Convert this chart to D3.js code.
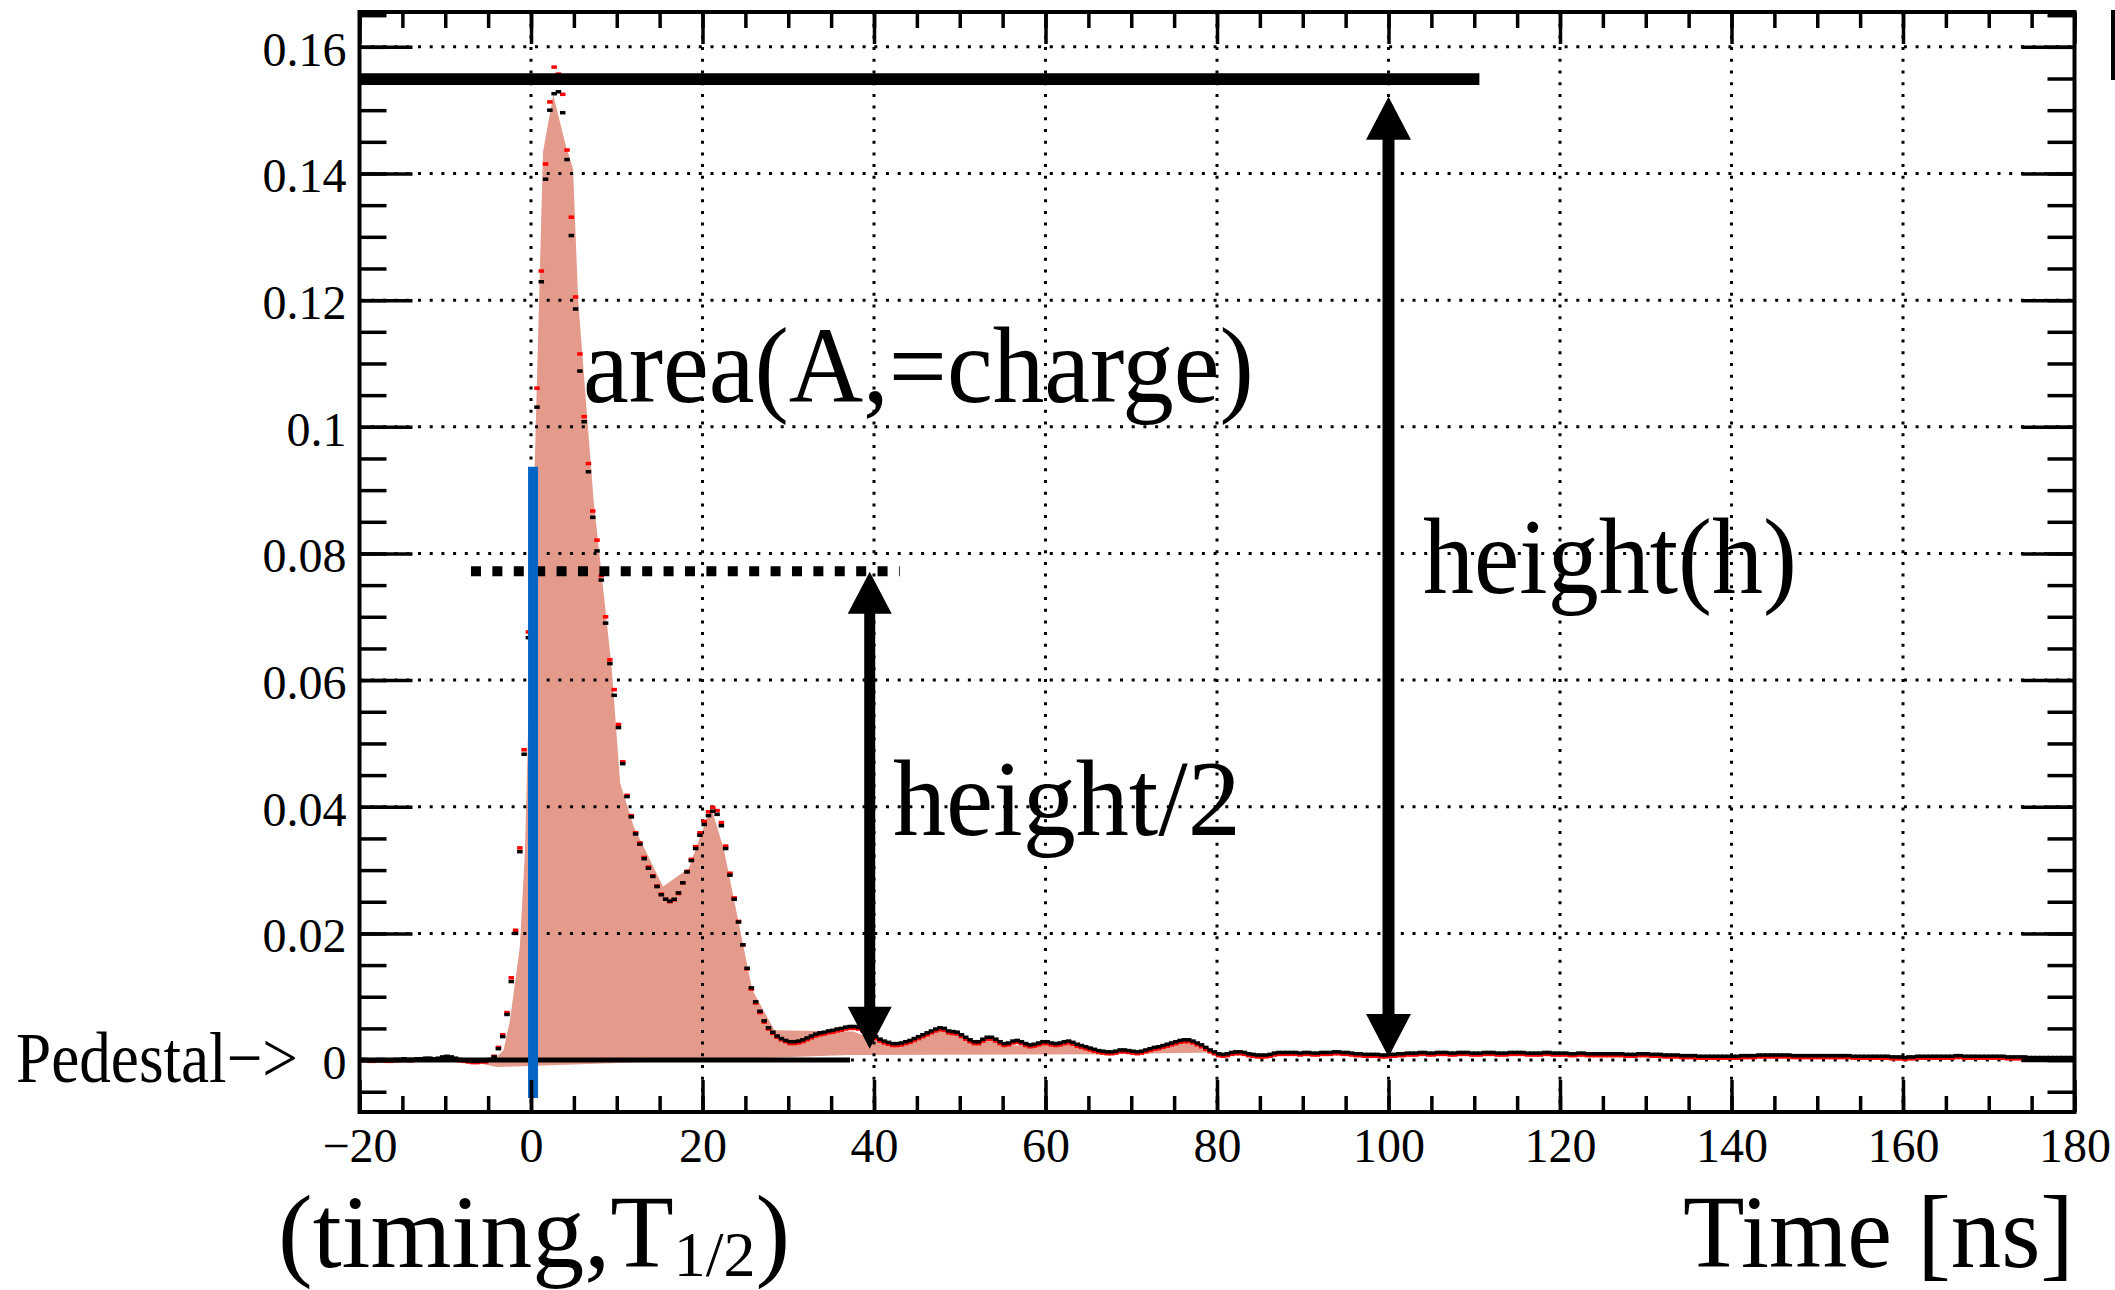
<!DOCTYPE html>
<html>
<head>
<meta charset="utf-8">
<script src="https://cdn.jsdelivr.net/npm/d3@7"></script>
<style>
	html, body { margin: 0; padding: 0; background: #fff; }
	svg { display: block; }
</style>
</head>
<body>
<div id="chart"></div>
<script>
// waveform: one sample every 0.5 ns, first sample at -19.8 ns
var SAMPLE_START = -19.8;
var SAMPLE_STEP = 0.5;

var blackSamples = [
	.0001,.0001,.0000,.0000,.0001,.0001,.0000,.0000,.0001,.0001,
	.0002,.0001,.0001,.0002,.0002,.0003,.0003,.0002,.0003,.0005,
	.0006,.0005,.0003,.0001,.0000,-.0001,-.0002,-.0002,-.0001,-.0001,
	.0001,.0005,.0018,.0037,.0072,.0124,.0200,.0329,.0483,.0667,
	.0860,.1031,.1229,.1391,.1500,.1526,.1529,.1496,.1422,.1302,
	.1186,.1088,.1008,.0929,.0857,.0804,.0758,.0690,.0626,.0576,
	.0525,.0468,.0416,.0384,.0357,.0341,.0318,.0303,.0290,.0274,
	.0261,.0254,.0251,.0254,.0264,.0280,.0297,.0315,.0334,.0355,
	.0372,.0386,.0393,.0388,.0370,.0334,.0292,.0254,.0218,.0182,
	.0145,.0114,.0092,.0077,.0062,.0051,.0044,.0038,.0034,.0031,
	.0029,.0029,.0030,.0032,.0035,.0038,.0041,.0043,.0044,.0046,
	.0047,.0049,.0050,.0052,.0053,.0053,.0052,.0049,.0045,.0041,
	.0037,.0033,.0030,.0028,.0026,.0026,.0027,.0029,.0031,.0034,
	.0037,.0040,.0043,.0046,.0049,.0051,.0050,.0046,.0045,.0044,
	.0040,.0036,.0032,.0029,.0029,.0033,.0036,.0036,.0033,.0029,
	.0026,.0027,.0030,.0031,.0029,.0026,.0024,.0025,.0027,.0029,
	.0029,.0027,.0026,.0027,.0029,.0030,.0028,.0025,.0023,.0021,
	.0019,.0017,.0015,.0014,.0013,.0013,.0014,.0016,.0016,.0015,
	.0014,.0013,.0014,.0016,.0018,.0020,.0021,.0023,.0025,.0027,
	.0029,.0031,.0032,.0032,.0030,.0027,.0024,.0020,.0016,.0013,
	.0010,.0009,.0010,.0012,.0013,.0013,.0012,.0010,.0009,.0008,
	.0008,.0008,.0009,.0011,.0012,.0012,.0012,.0012,.0012,.0011,
	.0012,.0012,.0011,.0011,.0012,.0012,.0012,.0013,.0013,.0012,
	.0012,.0011,.0010,.0010,.0009,.0009,.0009,.0009,.0008,.0008,
	.0009,.0009,.0010,.0010,.0011,.0011,.0011,.0012,.0012,.0011,
	.0011,.0012,.0012,.0012,.0011,.0011,.0012,.0012,.0012,.0011,
	.0011,.0011,.0012,.0012,.0012,.0011,.0011,.0011,.0012,.0012,
	.0012,.0012,.0011,.0011,.0011,.0011,.0012,.0012,.0011,.0011,
	.0011,.0011,.0010,.0010,.0011,.0011,.0010,.0010,.0010,.0010,
	.0010,.0010,.0010,.0010,.0010,.0009,.0009,.0009,.0010,.0010,
	.0010,.0009,.0009,.0009,.0008,.0008,.0008,.0008,.0007,.0007,
	.0007,.0007,.0006,.0006,.0006,.0006,.0006,.0006,.0006,.0006,
	.0006,.0006,.0007,.0007,.0007,.0007,.0008,.0008,.0008,.0008,
	.0008,.0008,.0008,.0008,.0007,.0007,.0007,.0007,.0007,.0007,
	.0007,.0007,.0007,.0007,.0007,.0007,.0007,.0007,.0006,.0006,
	.0006,.0006,.0006,.0006,.0006,.0006,.0006,.0005,.0005,.0005,
	.0004,.0005,.0005,.0006,.0006,.0006,.0006,.0006,.0006,.0006,
	.0006,.0006,.0007,.0007,.0006,.0006,.0006,.0006,.0006,.0006,
	.0006,.0006,.0006,.0006,.0005,.0005,.0005,.0005,.0005,.0004,
	.0004,.0004,.0004,.0004,.0004,.0004,.0004,.0004,.0004,.0004
];

var redSamples = [
	-.0001,-.0001,-.0002,-.0002,-.0001,-.0001,-.0002,-.0002,-.0001,-.0001,
	.0000,-.0001,-.0001,.0000,.0000,.0001,.0001,.0000,.0001,.0003,
	.0004,.0003,.0001,-.0001,-.0002,-.0003,-.0004,-.0004,-.0003,-.0003,
	.0000,.0006,.0020,.0040,.0075,.0130,.0205,.0335,.0490,.0676,
	.0875,.1061,.1246,.1415,.1513,.1568,.1557,.1525,.1437,.1331,
	.1205,.1115,.1016,.0942,.0867,.0821,.0765,.0700,.0632,.0585,
	.0530,.0471,.0418,.0386,.0359,.0343,.0320,.0305,.0291,.0275,
	.0262,.0254,.0250,.0253,.0263,.0280,.0298,.0317,.0337,.0359,
	.0377,.0392,.0399,.0394,.0375,.0338,.0295,.0256,.0219,.0182,
	.0144,.0112,.0090,.0075,.0060,.0049,.0042,.0036,.0032,.0029,
	.0026,.0026,.0027,.0029,.0032,.0035,.0038,.0040,.0041,.0043,
	.0044,.0046,.0047,.0049,.0050,.0050,.0049,.0046,.0042,.0038,
	.0034,.0030,.0027,.0025,.0023,.0023,.0024,.0026,.0028,.0031,
	.0034,.0037,.0040,.0043,.0046,.0048,.0047,.0043,.0042,.0041,
	.0037,.0033,.0029,.0026,.0026,.0030,.0033,.0033,.0030,.0026,
	.0023,.0024,.0027,.0028,.0026,.0023,.0021,.0022,.0024,.0026,
	.0026,.0024,.0023,.0024,.0026,.0027,.0025,.0022,.0020,.0018,
	.0016,.0014,.0012,.0011,.0010,.0010,.0011,.0013,.0013,.0012,
	.0011,.0010,.0011,.0013,.0015,.0017,.0018,.0020,.0022,.0024,
	.0026,.0028,.0029,.0029,.0027,.0024,.0021,.0017,.0013,.0010,
	.0007,.0006,.0007,.0009,.0010,.0010,.0009,.0007,.0006,.0005,
	.0005,.0005,.0006,.0008,.0009,.0009,.0009,.0009,.0009,.0008,
	.0009,.0009,.0008,.0008,.0009,.0009,.0009,.0010,.0010,.0009,
	.0009,.0008,.0007,.0007,.0006,.0006,.0006,.0006,.0005,.0005,
	.0006,.0006,.0007,.0007,.0008,.0008,.0008,.0009,.0009,.0008,
	.0008,.0009,.0009,.0009,.0008,.0008,.0009,.0009,.0009,.0008,
	.0008,.0008,.0009,.0009,.0009,.0008,.0008,.0008,.0009,.0009,
	.0009,.0009,.0008,.0008,.0008,.0008,.0009,.0009,.0008,.0008,
	.0008,.0008,.0007,.0007,.0008,.0008,.0007,.0007,.0007,.0007,
	.0007,.0007,.0007,.0007,.0007,.0006,.0006,.0006,.0007,.0007,
	.0007,.0006,.0006,.0006,.0005,.0005,.0005,.0005,.0004,.0004,
	.0004,.0004,.0003,.0003,.0003,.0003,.0003,.0003,.0003,.0003,
	.0003,.0003,.0004,.0004,.0004,.0004,.0005,.0005,.0005,.0005,
	.0005,.0005,.0005,.0005,.0004,.0004,.0004,.0004,.0004,.0004,
	.0004,.0004,.0004,.0004,.0004,.0004,.0004,.0004,.0003,.0003,
	.0003,.0003,.0003,.0003,.0003,.0003,.0003,.0002,.0002,.0002,
	.0001,.0002,.0002,.0003,.0003,.0003,.0003,.0003,.0003,.0003,
	.0003,.0003,.0004,.0004,.0003,.0003,.0003,.0003,.0003,.0003,
	.0003,.0003,.0003,.0003,.0002,.0002,.0002,.0002,.0002,.0001,
	.0001,.0001,.0001,.0001,.0001,.0001,.0001,.0001,.0001,.0001
];

// hand drawn shaded area under the pulse (time, value)
var fillTimes = [-7.9, -4.2, -3.2, -2.45, -1.3, -0.7, 0.55, 1.4, 2.6, 4.1, 4.9, 5.5, 7.3, 9.4, 10.4, 12.0, 15.4, 18.4, 21.0, 22.5, 25.8, 28.4, 37.6, 39.5, 41.5, 43.0, 47.7, 49.5, 51.8, 53.6, 55.4, 58.5, 60.2, 63.0, 65.5, 67.3, 70.8, 76.0, 79.5, 67.0, 37.0, -4.0];
var fillValues = [0.0000, 0.0002, 0.0016, 0.0063, 0.0179, 0.0330, 0.1000, 0.1434, 0.1524, 0.1442, 0.1408, 0.1200, 0.0884, 0.0621, 0.0437, 0.0368, 0.0274, 0.0303, 0.0400, 0.0332, 0.0111, 0.0047, 0.0045, 0.0035, 0.0028, 0.0026, 0.0047, 0.0040, 0.0024, 0.0032, 0.0024, 0.0022, 0.0026, 0.0025, 0.0013, 0.0010, 0.0012, 0.0030, 0.0012, 0.0009, 0.0008, -0.0011];

var xMajorTicks = [-20, 0, 20, 40, 60, 80, 100, 120, 140, 160, 180];
var xTickLabels = ["\u221220", "0", "20", "40", "60", "80", "100", "120", "140", "160", "180"];
var yMajorTicks = [0, 0.02, 0.04, 0.06, 0.08, 0.1, 0.12, 0.14, 0.16];
var yTickLabels = ["0", "0.02", "0.04", "0.06", "0.08", "0.1", "0.12", "0.14", "0.16"];

// annotation marks, in data units
var heightLine = { from: -20, to: 110.6, value: 0.1549 };
var halfLine = { from: -7.0, to: 43.0, value: 0.0772 };
var pedestalLine = { from: -20, to: 37.2, value: 0 };
var timingLine = { at: 0.24, from: -0.006, to: 0.0937 };
var heightArrow = { at: 100, from: 0.0005, to: 0.1521 };
var halfArrow = { at: 39.5, from: 0.0018, to: 0.0771 };

var W = 2115, H = 1290;
var frame = { left: 359.5, right: 2074.5, top: 12, bottom: 1112 };
var FONT = "'Liberation Serif', 'Times New Roman', serif";

var x = d3.scaleLinear().domain([-20, 180]).range([frame.left, frame.right]);
var y = d3.scaleLinear().domain([-0.0082, 0.1655]).range([frame.bottom, frame.top]);

var svg = d3.select("#chart")
	.append("svg")
	.attr("width", W)
	.attr("height", H);

// shaded charge area
var fillLine = d3.line()
	.x(function(_d) { return x(_d[0]); })
	.y(function(_d) { return y(_d[1]); });

svg.append("path")
	.attr("class", "charge_area")
	.attr("d", fillLine(d3.zip(fillTimes, fillValues)) + "Z")
	.style("fill", "#e59b8b");

// dotted grid
var grid = svg.append("g").attr("class", "grid")
	.style("stroke", "#000")
	.style("stroke-width", 3)
	.style("stroke-dasharray", "3 8.7");

grid.selectAll(".grid_v")
	.data(xMajorTicks.slice(1, -1))
	.enter().append("line")
	.attr("class", "grid_v")
	.attr("x1", function(_d) { return x(_d); })
	.attr("x2", function(_d) { return x(_d); })
	.attr("y1", frame.top)
	.attr("y2", frame.bottom);

grid.selectAll(".grid_h")
	.data(yMajorTicks)
	.enter().append("line")
	.attr("class", "grid_h")
	.attr("x1", frame.left)
	.attr("x2", frame.right)
	.attr("y1", function(_d) { return y(_d); })
	.attr("y2", function(_d) { return y(_d); });

// waveform markers
var drawMarkers = function(_values, _colour)	{
	svg.append("g")
	.selectAll("rect")
	.data(_values)
	.enter().append("rect")
	.attr("x", function(_d, _i) { return x(SAMPLE_START + _i * SAMPLE_STEP) - 2.75; })
	.attr("y", function(_d) { return y(_d) - 1.75; })
	.attr("width", 5.5)
	.attr("height", 3.5)
	.style("fill", _colour);
}

drawMarkers(redSamples, "#ff0000");
drawMarkers(blackSamples, "#000");

// annotation lines
var hLine = function(_l, _width, _colour, _dash)	{
	return svg.append("line")
	.attr("x1", x(_l.from))
	.attr("x2", x(_l.to))
	.attr("y1", y(_l.value))
	.attr("y2", y(_l.value))
	.style("stroke", _colour)
	.style("stroke-width", _width)
	.style("stroke-dasharray", _dash || null);
}

hLine(heightLine, 11.7, "#000");
hLine(halfLine, 10, "#000", "10 11.4");
hLine(pedestalLine, 5, "#000");

svg.append("line")
	.attr("x1", x(timingLine.at))
	.attr("x2", x(timingLine.at))
	.attr("y1", y(timingLine.from))
	.attr("y2", y(timingLine.to))
	.style("stroke", "#0565c4")
	.style("stroke-width", 10);

var doubleArrow = function(_a, _shaft, _headW, _headL)	{
	var cx = x(_a.at);
	var top = y(_a.to);
	var bottom = y(_a.from);
	var g = svg.append("g").attr("class", "arrow");

	g.append("line")
	.attr("x1", cx)
	.attr("x2", cx)
	.attr("y1", top + _headL - 2)
	.attr("y2", bottom - _headL + 2)
	.style("stroke", "#000")
	.style("stroke-width", _shaft);

	g.append("path")
	.attr("d", "M" + cx + "," + top + "L" + (cx - _headW / 2) + "," + (top + _headL) + "L" + (cx + _headW / 2) + "," + (top + _headL) + "Z"
		+ "M" + cx + "," + bottom + "L" + (cx - _headW / 2) + "," + (bottom - _headL) + "L" + (cx + _headW / 2) + "," + (bottom - _headL) + "Z")
	.style("fill", "#000");
}

doubleArrow(heightArrow, 12, 45, 43);
doubleArrow(halfArrow, 11, 44, 42);

// axes, ticks drawn inwards ROOT style
var styleAxis = function(_g)	{
	_g.select(".domain").remove();
	_g.attr("font-family", FONT)
	.attr("font-size", 48);
	_g.selectAll("line").style("stroke-width", 3.5);
	_g.selectAll("text").style("fill", "#000");
}

var yMinor = d3.range(-5, 166, 5).map(function(_d) { return _d / 1000; });
var xMinor = d3.range(-20, 181, 5);

svg.append("g")
	.attr("transform", "translate(" + frame.left + ",0)")
	.call(d3.axisLeft(y).tickValues(yMinor).tickSizeInner(-27).tickSizeOuter(0).tickFormat(""))
	.call(styleAxis);

svg.append("g")
	.attr("class", "y_axis")
	.attr("transform", "translate(" + frame.left + ",0)")
	.call(d3.axisLeft(y).tickValues(yMajorTicks).tickSizeInner(-53).tickSizeOuter(0).tickPadding(13)
		.tickFormat(function(_d, _i) { return yTickLabels[_i]; }))
	.call(styleAxis)
	.selectAll("text")
	.attr("dy", "0.38em");

svg.append("g")
	.attr("transform", "translate(" + frame.right + ",0)")
	.call(d3.axisRight(y).tickValues(yMinor).tickSizeInner(-27).tickSizeOuter(0).tickFormat(""))
	.call(styleAxis);

svg.append("g")
	.attr("transform", "translate(" + frame.right + ",0)")
	.call(d3.axisRight(y).tickValues(yMajorTicks).tickSizeInner(-53).tickSizeOuter(0).tickFormat(""))
	.call(styleAxis);

svg.append("g")
	.attr("transform", "translate(0," + frame.bottom + ")")
	.call(d3.axisBottom(x).tickValues(xMinor).tickSizeInner(-16).tickSizeOuter(0).tickFormat(""))
	.call(styleAxis);

svg.append("g")
	.attr("class", "x_axis")
	.attr("transform", "translate(0," + frame.bottom + ")")
	.call(d3.axisBottom(x).tickValues(xMajorTicks).tickSizeInner(-32).tickSizeOuter(0).tickPadding(16)
		.tickFormat(function(_d, _i) { return xTickLabels[_i]; }))
	.call(styleAxis);

svg.append("g")
	.attr("transform", "translate(0," + frame.top + ")")
	.call(d3.axisTop(x).tickValues(xMinor).tickSizeInner(-16).tickSizeOuter(0).tickFormat(""))
	.call(styleAxis);

svg.append("g")
	.attr("transform", "translate(0," + frame.top + ")")
	.call(d3.axisTop(x).tickValues(xMajorTicks).tickSizeInner(-32).tickSizeOuter(0).tickFormat(""))
	.call(styleAxis);

svg.append("rect")
	.attr("class", "frame")
	.attr("x", frame.left)
	.attr("y", frame.top)
	.attr("width", frame.right - frame.left)
	.attr("height", frame.bottom - frame.top)
	.style("fill", "none")
	.style("stroke", "#000")
	.style("stroke-width", 4);

// edge of a neighbouring box, cut off at the right border
svg.append("rect")
	.attr("x", W - 4)
	.attr("y", 10)
	.attr("width", 4)
	.attr("height", 70)
	.style("fill", "#000");

// labels: the original face is narrower than Liberation Serif,
// so each label is squeezed sideways to the width it has in the picture
var label = function(_text, _x, _y, _size, _width)	{
	var t = svg.append("text")
	.attr("x", 0)
	.attr("y", 0)
	.style("font-family", FONT)
	.style("font-size", _size + "px")
	.style("fill", "#000")
	.text(_text);
	var k = _width / t.node().getComputedTextLength();
	t.attr("transform", "translate(" + _x + "," + _y + ") scale(" + k + ",1)");
	return t;
}

label("area(A,=charge)", 583, 401.7, 108, 671);
label("height(h)", 1423, 593, 108, 374);
label("height/2", 893, 835, 108, 348);
label("Pedestal\u2212>", 16, 1081.7, 72, 282);
label("Time [ns]", 1683, 1267, 104, 391);

var timing = svg.append("text")
	.attr("x", 278)
	.attr("y", 1267)
	.style("font-family", FONT)
	.style("font-size", "104px")
	.style("fill", "#000");

timing.append("tspan").text("(timing,T");
timing.append("tspan").attr("dy", 9).style("font-size", "64px").text("1/2");
timing.append("tspan").attr("dy", -9).text(")");
</script>
</body>
</html>
